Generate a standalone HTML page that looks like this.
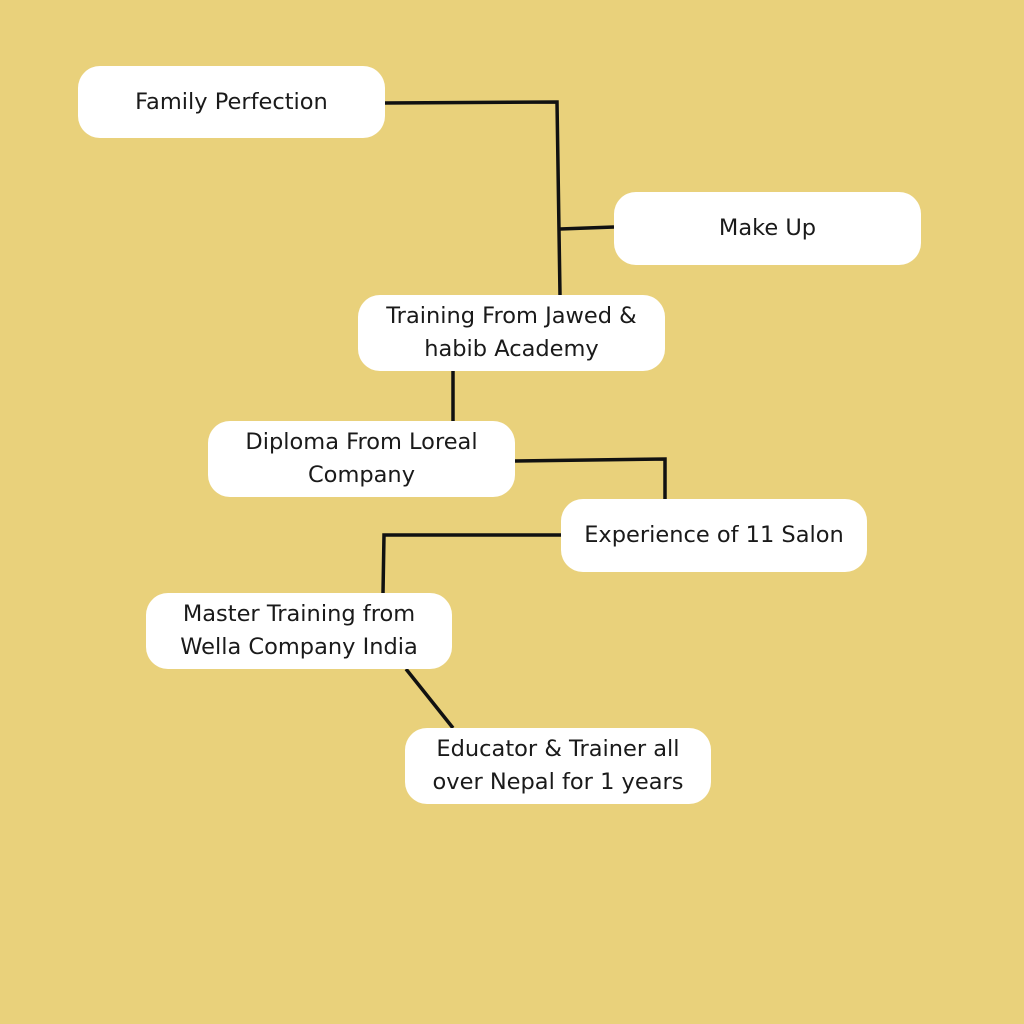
<!DOCTYPE html>
<html><head><meta charset="utf-8"><style>
html,body{margin:0;padding:0}
body{width:1024px;height:1024px;background:#E9D17B;position:relative;overflow:hidden;font-family:"DejaVu Sans","Liberation Sans",sans-serif}
.b{position:absolute;background:#fff;border-radius:22px;display:flex;align-items:center;justify-content:center;text-align:center;font-size:22.5px;line-height:33px;color:#1a1a1a}
svg{position:absolute;left:0;top:0}
</style></head><body>
<svg width="1024" height="1024"><g stroke="#111" stroke-width="3.5" fill="none">
<polyline points="385,103 557,102 560,295"/>
<line x1="560" y1="229" x2="614" y2="227"/>
<line x1="453" y1="371" x2="453" y2="421"/>
<polyline points="515,461 665,459 665,499"/>
<polyline points="561,535 384,535 383,593"/>
<line x1="406" y1="669" x2="453" y2="728"/>
</g></svg>
<div class="b" style="left:78px;top:66px;width:307px;height:72px">Family Perfection</div>
<div class="b" style="left:614px;top:192px;width:307px;height:73px">Make Up</div>
<div class="b" style="left:358px;top:295px;width:307px;height:76px">Training From Jawed &amp;<br>habib Academy</div>
<div class="b" style="left:208px;top:421px;width:307px;height:76px">Diploma From Loreal<br>Company</div>
<div class="b" style="left:561px;top:499px;width:306px;height:73px">Experience of 11 Salon</div>
<div class="b" style="left:146px;top:593px;width:306px;height:76px">Master Training from<br>Wella Company India</div>
<div class="b" style="left:405px;top:728px;width:306px;height:76px">Educator &amp; Trainer all<br>over Nepal for 1 years</div>
</body></html>
